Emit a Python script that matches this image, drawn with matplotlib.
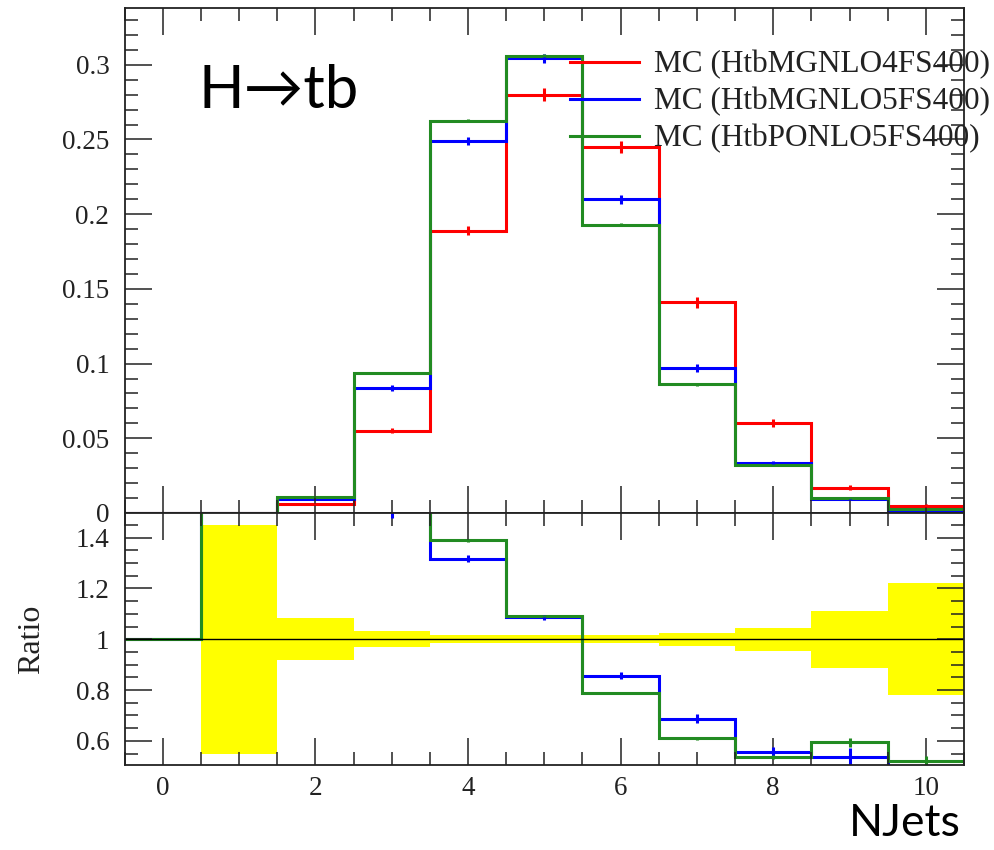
import numpy as np
import matplotlib
matplotlib.use("Agg")
import matplotlib.pyplot as plt
from matplotlib.ticker import MultipleLocator, FuncFormatter

# NJets bins 0..10
edges = np.arange(-0.5, 11.0, 1.0)
centers = 0.5 * (edges[:-1] + edges[1:])

labels = ["MC (HtbMGNLO4FS400)", "MC (HtbMGNLO5FS400)", "MC (HtbPONLO5FS400)"]
colors = ["#ff0000", "#0000ff", "#228b22"]

# reference sample (4FS) and the two 5FS samples
ref = np.array([0, 0.0001, 0.006, 0.0551, 0.189, 0.280, 0.245, 0.141, 0.060, 0.017, 0.005])
ref_err = np.array([0, 0.000045, 0.0005, 0.0017, 0.0031, 0.0042, 0.0040, 0.0037, 0.0027, 0.0019, 0.0011])
mg5 = np.array([0, 0.0002, 0.0094, 0.0834, 0.249, 0.3043, 0.210, 0.097, 0.0333, 0.0091, 0.0005])
mg5_err = np.array([0, 0.00005, 0.0003, 0.0020, 0.0028, 0.0028, 0.0030, 0.0025, 0.0012, 0.0006, 0.0002])
po5 = np.array([0, 0.0003, 0.011, 0.0939, 0.2626, 0.306, 0.193, 0.0861, 0.0321, 0.0101, 0.0026])
po5_err = np.array([0, 0.00005, 0.0003, 0.0006, 0.0010, 0.0010, 0.0010, 0.0008, 0.0005, 0.0003, 0.0001])

W, H = 995, 850
fig = plt.figure(figsize=(W / 100, H / 100), dpi=100)
ax = fig.add_axes([124.6 / W, 1 - 513 / H, 839.4 / W, (513 - 8.3) / H])
ax2 = fig.add_axes([124.6 / W, 1 - 765 / H, 839.4 / W, (765 - 513) / H], sharex=ax)

serif = "Liberation Serif"
lw = 2.2

# main panel
for vals, errs, c, lab in zip([ref, mg5, po5], [ref_err, mg5_err, po5_err], colors, labels):
    ax.stairs(vals, edges, baseline=None, color=c, lw=lw, label=lab)
    ax.vlines(centers, vals - errs, vals + errs, color=c, lw=lw)

ax.set_xlim(-0.5, 10.5)
ax.set_ylim(0, 0.3378)
ax.yaxis.set_major_locator(MultipleLocator(0.05))
ax.yaxis.set_minor_locator(MultipleLocator(0.01))
fmt = FuncFormatter(lambda v, p: "%g" % round(v, 4))
ax.yaxis.set_major_formatter(fmt)
ax.tick_params(labelbottom=False)

leg = ax.legend(loc="upper left", bbox_to_anchor=(0.5306, 0.917), frameon=False,
                prop={"family": serif, "size": 22.5}, handlelength=2.2,
                handletextpad=0.5, labelspacing=0.25, borderpad=0, borderaxespad=0)
for t in leg.get_texts():
    t.set_color("#222222")

# ratio panel
ok = ref > 0
rel = np.where(ok, ref_err / np.where(ok, ref, 1), 0)
ax2.stairs(np.where(ok, 1 + rel, np.nan), edges, baseline=np.where(ok, 1 - rel, np.nan),
           fill=True, color="#ffff00", lw=0)
ax2.axhline(1, color="black", lw=1.0)
for vals, errs, c in zip([mg5, po5], [mg5_err, po5_err], colors[1:]):
    r = np.where(ok, vals / np.where(ok, ref, 1), 1.0)
    re = np.where(ok, errs / np.where(ok, ref, 1), 0)
    ax2.stairs(r, edges, baseline=None, color=c, lw=lw)
    ax2.vlines(centers[ok], (r - re)[ok], (r + re)[ok], color=c, lw=lw)

ax2.set_ylim(0.505, 1.497)
ax2.yaxis.set_major_locator(MultipleLocator(0.2))
ax2.yaxis.set_minor_locator(MultipleLocator(0.05))
ax2.yaxis.set_major_formatter(fmt)
ax2.xaxis.set_major_locator(MultipleLocator(2))
ax2.xaxis.set_minor_locator(MultipleLocator(0.5))
ax2.xaxis.set_major_formatter(FuncFormatter(lambda v, p: "%d" % round(v)))
ax2.set_ylabel("Ratio", fontsize=23, family=serif, color="#222222")
ax2.yaxis.set_label_coords(-0.094, 0.5)

for a in (ax, ax2):
    a.tick_params(which="both", direction="in", top=True, right=True, width=1.1,
                  color="#222222")
    a.tick_params(which="major", length=19.5, pad=11)
    a.tick_params(which="minor", length=9.5)
    for lab in a.get_xticklabels() + a.get_yticklabels():
        lab.set_family(serif)
        lab.set_fontsize(19.5)
        lab.set_color("#222222")
    for s in a.spines.values():
        s.set_linewidth(1.3)
        s.set_color("#222222")
ax2.tick_params(axis="x", pad=8)

fig.text(198 / W, 1 - 108 / H, "H\u2192tb", family=["Lato", "DejaVu Sans"],
         fontsize=43, ha="left", va="baseline")
fig.text(961 / W, 1 - 836 / H, "NJets", family="Lato", fontsize=32,
         ha="right", va="baseline")

fig.savefig("out.png", dpi=100)
